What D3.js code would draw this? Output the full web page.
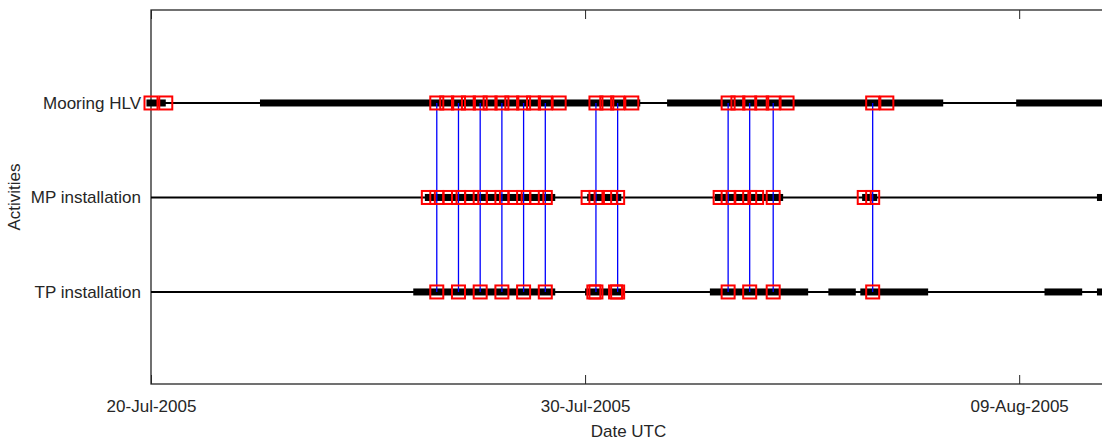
<!DOCTYPE html>
<html>
<head>
<meta charset="utf-8">
<script src="https://cdn.jsdelivr.net/npm/d3@7"></script>
<style>
  body { margin: 0; background: #fff; }
  svg { display: block; font-family: "Liberation Sans", Arial, sans-serif; }
  .axis path, .axis line { stroke: #262626; }
  .axis text { fill: #262626; font-size: 17px; }
</style>
</head>
<body>
<div id="chart"></div>
<script>
// activity rows (top to bottom)
const activities = ["Mooring HLV", "MP installation", "TP installation"];
const rowLevel = [3, 2, 1];

// x axis ticks
const tickDates = ["2005-07-20 00:00", "2005-07-30 00:00", "2005-08-09 00:00"];
const xStart = "2005-07-20 00:00";
const xEnd = "2005-08-11 00:00";

// red square markers, per activity
const mooringMarks = [
  "2005-07-20 00:00", "2005-07-20 08:10",
  "2005-07-26 14:00", "2005-07-26 19:30", "2005-07-27 02:00", "2005-07-27 07:30",
  "2005-07-27 14:00", "2005-07-27 19:30", "2005-07-28 02:00", "2005-07-28 07:30",
  "2005-07-28 14:00", "2005-07-28 19:30", "2005-07-29 02:00", "2005-07-29 09:40",
  "2005-07-30 06:00", "2005-07-30 12:00", "2005-07-30 18:00", "2005-07-31 01:50",
  "2005-08-02 07:05", "2005-08-02 12:30", "2005-08-02 19:00", "2005-08-03 01:40",
  "2005-08-03 08:00", "2005-08-03 15:40", "2005-08-05 15:00", "2005-08-05 22:50"
];
const mpMarks = [
  "2005-07-26 09:20", "2005-07-26 14:00", "2005-07-26 21:20", "2005-07-27 02:00",
  "2005-07-27 09:20", "2005-07-27 14:00", "2005-07-27 21:20", "2005-07-28 02:00",
  "2005-07-28 09:20", "2005-07-28 14:00", "2005-07-28 21:20", "2005-07-29 02:00",
  "2005-07-30 01:40", "2005-07-30 06:00", "2005-07-30 14:00", "2005-07-30 18:00",
  "2005-08-02 02:40", "2005-08-02 07:05", "2005-08-02 14:40", "2005-08-02 19:00",
  "2005-08-02 22:50", "2005-08-03 08:00", "2005-08-05 10:20", "2005-08-05 15:00"
];
const tpMarks = [
  "2005-07-26 14:00", "2005-07-27 02:00", "2005-07-27 14:00", "2005-07-28 02:00",
  "2005-07-28 14:00", "2005-07-29 02:00",
  "2005-07-30 04:50", "2005-07-30 06:00", "2005-07-30 16:50", "2005-07-30 18:00",
  "2005-08-02 07:05", "2005-08-02 19:00", "2005-08-03 08:00", "2005-08-05 15:00"
];

// thick bars [start, end], per activity
const mooringBars = [
  ["2005-07-19 21:30", "2005-07-20 08:10"],
  ["2005-07-22 12:15", "2005-07-31 06:30"],
  ["2005-07-31 21:20", "2005-08-07 06:00"],
  ["2005-08-08 22:20", "2005-08-11 00:00"]
];
const mpBars = [
  ["2005-07-26 07:25", "2005-07-29 07:30"],
  ["2005-07-30 01:10", "2005-07-30 20:00"],
  ["2005-08-01 23:45", "2005-08-03 13:30"],
  ["2005-08-05 09:10", "2005-08-05 17:30"],
  ["2005-08-10 19:00", "2005-08-11 00:00"]
];
const tpBars = [
  ["2005-07-26 01:00", "2005-07-29 07:30"],
  ["2005-07-30 00:00", "2005-07-30 22:00"],
  ["2005-08-01 21:00", "2005-08-04 03:20"],
  ["2005-08-04 14:30", "2005-08-05 05:40"],
  ["2005-08-05 08:10", "2005-08-06 21:40"],
  ["2005-08-09 14:00", "2005-08-10 10:50"],
  ["2005-08-10 19:00", "2005-08-11 00:00"]
];

// blue links from Mooring HLV down to TP installation
const linkTimes = [
  "2005-07-26 14:00", "2005-07-27 02:00", "2005-07-27 14:00", "2005-07-28 02:00",
  "2005-07-28 14:00", "2005-07-29 02:00", "2005-07-30 06:00", "2005-07-30 18:00",
  "2005-08-02 07:05", "2005-08-02 19:00", "2005-08-03 08:00", "2005-08-05 15:00"
];

const W = 1102, H = 440;
const margin = { top: 10, left: 151, bottom: 56 };
const plotRight = 1106;
const yLim = [0.026, 3.984];

const parse = d3.timeParse("%Y-%m-%d %H:%M");

const x = d3.scaleTime()
  .domain([parse(xStart), parse(xEnd)])
  .range([margin.left, plotRight]);
const y = d3.scaleLinear()
  .domain(yLim)
  .range([H - margin.bottom, margin.top]);

const svg = d3.select("#chart").append("svg")
  .attr("width", W)
  .attr("height", H);

// axes box
svg.append("rect")
  .attr("x", margin.left)
  .attr("y", y(yLim[1]))
  .attr("width", plotRight - margin.left)
  .attr("height", y(yLim[0]) - y(yLim[1]))
  .attr("fill", "none")
  .attr("stroke", "#262626")
  .attr("stroke-width", 1.3);

const xAxis = d3.axisBottom(x)
  .tickValues(tickDates.map(parse))
  .tickFormat(d3.timeFormat("%d-%b-%Y"))
  .tickSizeInner(-9)
  .tickSizeOuter(0)
  .tickPadding(16);

svg.append("g")
  .attr("class", "axis")
  .attr("transform", `translate(0, ${y(yLim[0])})`)
  .call(xAxis)
  .call(g => g.select(".domain").remove());

// top ticks
svg.append("g")
  .attr("class", "axis")
  .attr("transform", `translate(0, ${y(yLim[1])})`)
  .call(d3.axisTop(x).tickValues(tickDates.map(parse)).tickSize(-9).tickFormat(""))
  .call(g => g.select(".domain").remove());

const yAxis = d3.axisLeft(y)
  .tickValues(rowLevel)
  .tickFormat((d, i) => activities[i])
  .tickSize(0)
  .tickPadding(10);

svg.append("g")
  .attr("class", "axis")
  .attr("transform", `translate(${margin.left}, 0)`)
  .call(yAxis)
  .call(g => g.select(".domain").remove());

// axis titles
svg.append("text")
  .attr("x", (margin.left + plotRight) / 2)
  .attr("y", 437)
  .attr("text-anchor", "middle")
  .attr("fill", "#262626")
  .style("font-size", "17px")
  .text("Date UTC");

svg.append("text")
  .attr("transform", `translate(20, ${(y(yLim[0]) + y(yLim[1])) / 2}) rotate(-90)`)
  .attr("text-anchor", "middle")
  .attr("fill", "#262626")
  .style("font-size", "17px")
  .text("Activities");

const rows = [
  { level: 3, bars: mooringBars, marks: mooringMarks },
  { level: 2, bars: mpBars, marks: mpMarks },
  { level: 1, bars: tpBars, marks: tpMarks }
];

// thin baselines
svg.selectAll(".baseline")
  .data(rows)
  .enter()
  .append("line")
  .attr("class", "baseline")
  .attr("x1", margin.left)
  .attr("x2", plotRight)
  .attr("y1", d => y(d.level))
  .attr("y2", d => y(d.level))
  .attr("stroke", "#000")
  .attr("stroke-width", 2);

// thick bars
rows.forEach(function (r) {
  svg.append("g")
    .selectAll("rect")
    .data(r.bars)
    .enter()
    .append("rect")
    .attr("x", d => x(parse(d[0])))
    .attr("width", d => x(parse(d[1])) - x(parse(d[0])))
    .attr("y", y(r.level) - 3.5)
    .attr("height", 7)
    .attr("fill", "#000");
});

// blue links
svg.append("g")
  .selectAll("line")
  .data(linkTimes)
  .enter()
  .append("line")
  .attr("x1", d => x(parse(d)))
  .attr("x2", d => x(parse(d)))
  .attr("y1", y(3))
  .attr("y2", y(1))
  .attr("stroke", "#0000ff")
  .attr("stroke-width", 1.3);

// red square markers
const s = 13;
rows.forEach(function (r) {
  svg.append("g")
    .selectAll("rect")
    .data(r.marks)
    .enter()
    .append("rect")
    .attr("x", d => x(parse(d)) - s / 2)
    .attr("y", y(r.level) - s / 2)
    .attr("width", s)
    .attr("height", s)
    .attr("fill", "none")
    .attr("stroke", "#ff0000")
    .attr("stroke-width", 2);
});
</script>
</body>
</html>
